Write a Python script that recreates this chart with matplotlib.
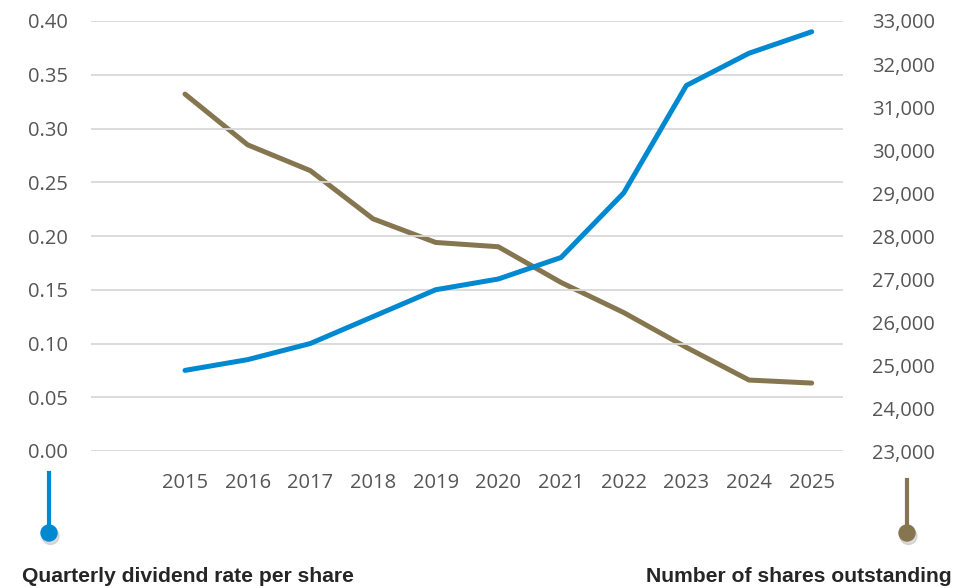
import matplotlib
matplotlib.use("Agg")
import matplotlib.pyplot as plt
import numpy as np

years = [2015, 2016, 2017, 2018, 2019, 2020, 2021, 2022, 2023, 2024, 2025]
dividend = [0.075, 0.085, 0.10, 0.125, 0.15, 0.16, 0.18, 0.24, 0.34, 0.37, 0.39]
shares = [31300, 30120, 29520, 28400, 27850, 27750, 26920, 26220, 25410, 24650, 24580]
left_ticks = [0.00, 0.05, 0.10, 0.15, 0.20, 0.25, 0.30, 0.35, 0.40]
right_ticks = [23000, 24000, 25000, 26000, 27000, 28000, 29000, 30000, 31000, 32000, 33000]
label_left = "Quarterly dividend rate per share"
label_right = "Number of shares outstanding"

BLUE = "#0088D1"
BROWN = "#857650"
TXT = "#555555"

plt.rcParams['font.family'] = ['Open Sans', 'DejaVu Sans']

fig = plt.figure(figsize=(9.76, 5.88), dpi=100)
W, H = 976, 588
ax = fig.add_axes([91 / W, 1 - 451 / H, (843 - 91) / W, (451 - 21) / H])
ax2 = ax.twinx()

x = np.arange(len(years))
ax.set_xlim(-1.5, len(years) - 0.5)
ax.set_ylim(0, 0.40)
ax2.set_ylim(23000, 33000)

ax.set_yticks(left_ticks)
ax.set_yticklabels([f"{v:.2f}" for v in left_ticks])
ax2.set_yticks(right_ticks)
ax2.set_yticklabels([f"{v:,}" for v in right_ticks])
ax.set_xticks(x)
ax.set_xticklabels([str(y) for y in years])

for a in (ax, ax2):
    for s in a.spines.values():
        s.set_visible(False)
    a.tick_params(length=0, labelsize=14.5, labelcolor=TXT)
ax.tick_params(axis='y', pad=16.5)
ax2.tick_params(axis='y', pad=21)
ax.tick_params(axis='x', pad=16)
ax.yaxis.grid(True, color="#D9D9D9", linewidth=1.3)
ax.set_axisbelow(True)

ax2.plot(x, shares, color=BROWN, linewidth=3.6, solid_capstyle='round', zorder=3)
ax.plot(x, dividend, color=BLUE, linewidth=3.6, solid_capstyle='round', zorder=4)
ax.set_zorder(ax2.get_zorder() + 1)
ax.patch.set_visible(False)

# legend-like markers
def marker(xp, y0, y1, color):
    fig.add_artist(plt.Line2D([xp / W, xp / W], [1 - y0 / H, 1 - y1 / H], color=color, linewidth=3))
    sh = matplotlib.patches.Ellipse(((xp + 1.5) / W, 1 - (y1 + 3) / H), 17 / W, 17 / H,
                                    transform=fig.transFigure, color="#bbbbbb", alpha=0.5, zorder=1)
    fig.add_artist(sh)
    c = matplotlib.patches.Ellipse((xp / W, 1 - y1 / H), 16 / W, 16 / H,
                                   transform=fig.transFigure, color=color, zorder=2)
    fig.add_artist(c)

marker(49, 473, 533, BLUE)
marker(907, 480, 533, BROWN)

fig.text(22 / W, 1 - 577 / H, label_left, fontsize=15.2, fontweight='bold',
         family=['Liberation Sans', 'DejaVu Sans'], color="#262626", ha='left', va='center')
fig.text(952 / W, 1 - 577 / H, label_right, fontsize=15.2, fontweight='bold',
         family=['Liberation Sans', 'DejaVu Sans'], color="#262626", ha='right', va='center')

fig.savefig("out.png", dpi=100)
